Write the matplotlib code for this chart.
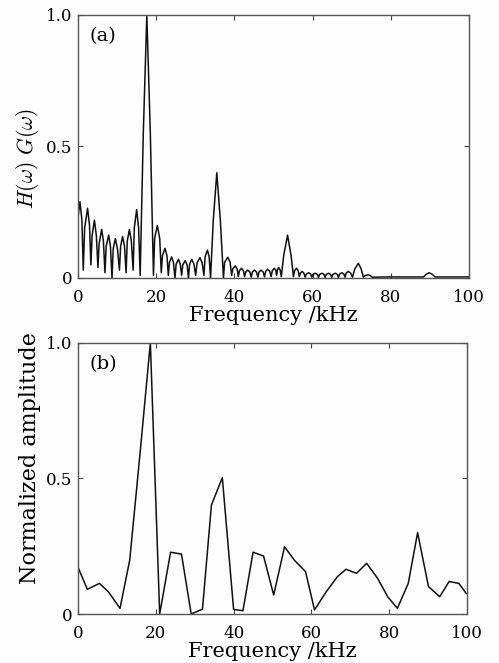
import numpy as np
import matplotlib
matplotlib.use('Agg')
import matplotlib.pyplot as plt

plt.rcParams['font.family'] = ['DejaVu Serif']
plt.rcParams['mathtext.fontset'] = 'cm'

# (a) spectrum H(w)G(w) (zero, shoulder, peak, shoulder per lobe)
freq_a = [0.0, 0.5, 1.0, 1.35,
          1.7, 2.45, 2.95, 3.3,
          3.6, 4.2, 4.7, 5.1,
          5.4, 6.05, 6.5, 6.9,
          7.2, 7.85, 8.3, 8.7,
          9.0, 9.55, 10.1, 10.6,
          10.9, 11.4, 11.9, 12.3,
          12.6, 13.15, 13.65, 14.1,
          14.4, 15.0, 15.5, 15.9,
          16.7, 17.6, 18.5, 19.3,
          19.6, 20.3, 20.9, 21.3,
          21.6, 22.25, 22.75, 23.1,
          23.4, 23.95, 24.4, 24.8,
          25.1, 25.7, 26.15, 26.5,
          26.8, 27.4, 27.9, 28.25,
          28.55, 29.1, 29.65, 30.1,
          30.45, 31.2, 31.75, 32.2,
          32.5, 33.1, 33.55, 33.9,
          34.6, 35.5, 36.4, 37.2,
          37.5, 38.3, 38.9, 39.3,
          39.6, 40.2, 40.7, 41.0,
          41.3, 41.8, 42.3, 42.6,
          42.9, 43.4, 43.95, 44.3,
          44.6, 45.1, 45.65, 46.0,
          46.3, 46.8, 47.35, 47.7,
          48.0, 48.5, 49.05, 49.4,
          49.7, 50.2, 50.55, 50.8,
          51.0, 51.3, 51.7, 52.0,
          52.6, 53.6, 54.5, 55.1,
          55.4, 55.9, 56.3, 56.6,
          56.9, 57.3, 57.75, 58.1,
          58.4, 59.0, 59.5, 59.8,
          60.1, 60.7, 61.2, 61.5,
          61.8, 62.4, 62.9, 63.2,
          63.5, 64.1, 64.6, 64.9,
          65.2, 65.8, 66.3, 66.6,
          66.9, 67.5, 68.0, 68.3,
          68.6, 69.1, 69.7, 70.2,
          70.8, 71.7, 72.4, 73.0,
          73.4, 74.2, 74.8, 75.2,
          80.0, 88.4, 89.0, 89.8, 90.6, 91.3, 100.0]
amp_a = [0.23, 0.29, 0.22, 0.03,
         0.19, 0.265, 0.20, 0.05,
         0.16, 0.22, 0.16, 0.04,
         0.13, 0.185, 0.14, 0.02,
         0.12, 0.163, 0.12, 0.0,
         0.11, 0.15, 0.11, 0.03,
         0.12, 0.157, 0.12, 0.02,
         0.14, 0.185, 0.14, 0.03,
         0.19, 0.26, 0.19, 0.01,
         0.55, 1.0, 0.55, 0.01,
         0.15, 0.20, 0.15, 0.02,
         0.085, 0.113, 0.085, 0.01,
         0.06, 0.08, 0.06, 0.0,
         0.053, 0.071, 0.053, 0.01,
         0.05, 0.066, 0.05, 0.0,
         0.053, 0.071, 0.053, 0.01,
         0.058, 0.077, 0.058, 0.01,
         0.08, 0.106, 0.08, 0.0,
         0.22, 0.40, 0.22, 0.0,
         0.06, 0.079, 0.06, 0.01,
         0.035, 0.046, 0.035, 0.005,
         0.028, 0.037, 0.028, 0.005,
         0.023, 0.03, 0.023, 0.003,
         0.023, 0.03, 0.023, 0.003,
         0.023, 0.03, 0.023, 0.004,
         0.025, 0.033, 0.025, 0.005,
         0.028, 0.037, 0.03, 0.01,
         0.03, 0.04, 0.03, 0.005,
         0.085, 0.163, 0.085, 0.005,
         0.028, 0.037, 0.028, 0.005,
         0.019, 0.025, 0.019, 0.003,
         0.015, 0.02, 0.015, 0.003,
         0.014, 0.018, 0.014, 0.002,
         0.014, 0.018, 0.014, 0.002,
         0.014, 0.018, 0.014, 0.002,
         0.014, 0.018, 0.014, 0.002,
         0.015, 0.02, 0.015, 0.003,
         0.019, 0.025, 0.019, 0.003,
         0.035, 0.056, 0.035, 0.003,
         0.009, 0.012, 0.009, 0.003,
         0.004, 0.004, 0.014, 0.02, 0.014, 0.004, 0.004]

# (b) normalized amplitude
freq_b = [0.1, 2.4, 5.5, 7.8, 10.8, 13.3, 16.0, 18.6, 21.0, 23.8, 26.6, 29.1, 32.0,
          34.3, 37.1, 40.0, 42.4, 45.0, 47.7, 50.3, 53.1, 55.6, 58.5, 60.8, 63.8,
          66.7, 68.9, 71.6, 74.2, 77.0, 79.6, 82.1, 84.9, 87.3, 90.1, 93.0, 95.4,
          97.9, 99.8]
amp_b = [0.169, 0.091, 0.113, 0.082, 0.021, 0.199, 0.60, 1.0, 0.0, 0.228, 0.221, 0.0,
         0.018, 0.402, 0.503, 0.017, 0.012, 0.228, 0.214, 0.07, 0.248, 0.199, 0.156,
         0.015, 0.082, 0.138, 0.165, 0.15, 0.187, 0.132, 0.064, 0.021, 0.113, 0.30,
         0.101, 0.064, 0.12, 0.113, 0.076]

xticks = [0, 20, 40, 60, 80, 100]
yticks = [0, 0.5, 1.0]
ytick_labels = ['0', '0.5', '1.0']

fig = plt.figure(figsize=(4.99, 6.63), dpi=100, facecolor='#fdfdfd')
ax1 = fig.add_axes([0.1563, 0.5807, 0.7836, 0.3967])
ax2 = fig.add_axes([0.1563, 0.0739, 0.7796, 0.4088])

panels = [(ax1, freq_a, amp_a, '(a)', r'$H(\omega)\ G(\omega)$', 15.5, 0.456),
          (ax2, freq_b, amp_b, '(b)', 'Normalized amplitude', 16, 0.576)]

for ax, f, a, tag, ylab, ysize, ypos in panels:
    ax.set_facecolor('#fdfdfd')
    ax.plot(f, a, color='#111111', lw=1.1)
    ax.set_xlim(0, 100)
    ax.set_ylim(0, 1.0)
    ax.set_xticks(xticks)
    ax.set_yticks(yticks, ytick_labels)
    ax.tick_params(direction='in', top=True, right=True, length=3.5, width=0.8,
                   labelsize=12, color='#444444')
    ax.tick_params(axis='x', pad=8)
    ax.tick_params(axis='y', pad=4)
    for s in ax.spines.values():
        s.set_color('#555555')
        s.set_linewidth(1.0)
    ax.set_xlabel('Frequency /kHz', fontsize=15, labelpad=0)
    ax.set_ylabel(ylab, fontsize=ysize)
    ax.yaxis.set_label_coords(-0.095, ypos)
    ax.text(0.03, 0.955, tag, transform=ax.transAxes, fontsize=14, va='top', ha='left')

fig.savefig('out.png', dpi=100, facecolor=fig.get_facecolor())
